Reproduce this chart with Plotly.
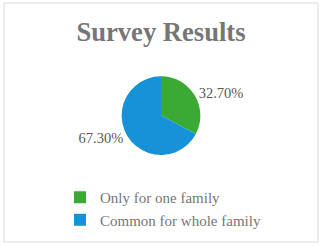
import plotly.graph_objects as go

categories = ["Only for one family", "Common for whole family"]
values = [32.70, 67.30]
colors = ["#3aaa35", "#1592d8"]
title_text = "Survey Results"

W, H = 322, 246
fig = go.Figure(go.Pie(
    labels=categories,
    values=values,
    marker=dict(colors=colors, line=dict(width=0)),
    sort=False,
    direction="clockwise",
    rotation=0,
    texttemplate="%{value:.2f}%",
    textposition="outside",
    textfont=dict(family="Liberation Serif", size=14.5, color="#595959"),
    domain=dict(x=[0.22, 0.78], y=[0.37, 0.69]),
    showlegend=True,
))

fig.update_layout(
    width=W, height=H,
    margin=dict(l=0, r=0, t=0, b=0, autoexpand=False),
    paper_bgcolor="white",
    title=dict(text="<b>" + title_text + "</b>", x=0.5, xanchor="center",
               y=1 - 32 / H, yanchor="middle",
               font=dict(family="Liberation Serif", size=26.6, color="#767676")),
    legend=dict(x=60 / W, xanchor="left", y=1 - 181 / H, yanchor="top",
                xref="container", yref="container",
                font=dict(family="Liberation Serif", size=15, color="#767676"),
                itemwidth=30,
                bgcolor="rgba(0,0,0,0)"),
    shapes=[dict(type="rect", xref="paper", yref="paper",
                 x0=4 / W, x1=318 / W, y0=1 - 242 / H, y1=1 - 3 / H,
                 line=dict(color="#d9d9d9", width=1))],
)

fig.write_html("out.html",
               config={"displayModeBar": False},
               post_script="document.body.style.margin='0';document.body.style.overflow='hidden';")
